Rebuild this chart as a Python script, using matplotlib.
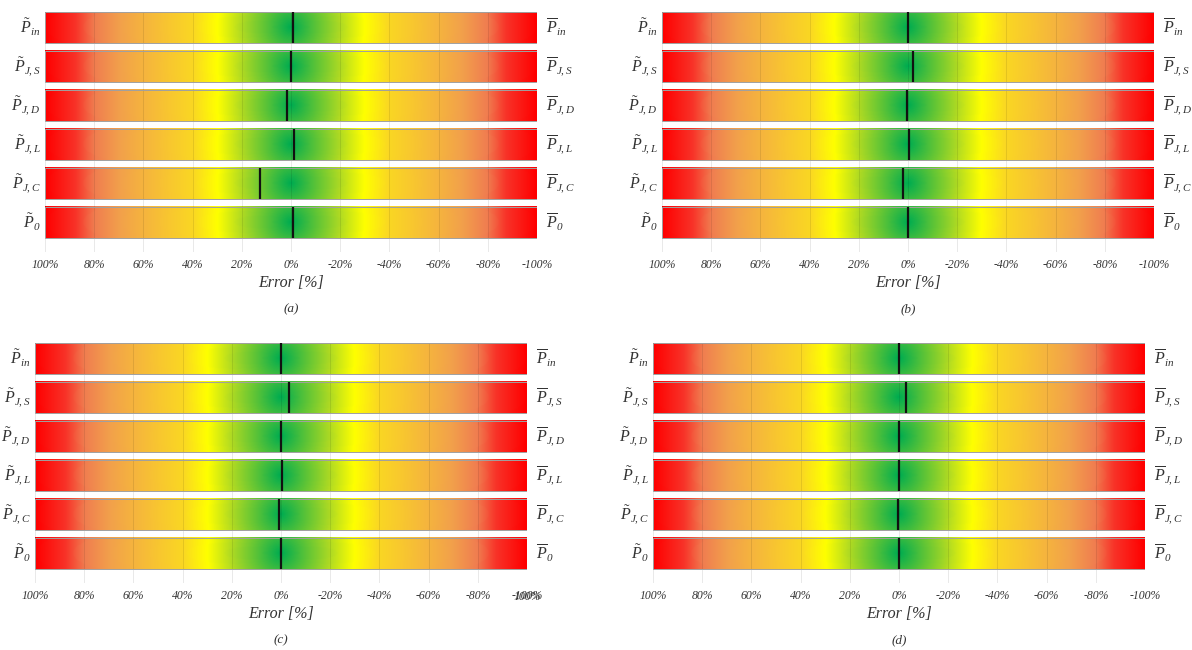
import numpy as np
import matplotlib
matplotlib.use("Agg")
import matplotlib.pyplot as plt
from matplotlib.colors import LinearSegmentedColormap

plt.rcParams['font.family'] = 'Liberation Serif'
plt.rcParams['mathtext.fontset'] = 'custom'
plt.rcParams['mathtext.rm'] = 'Liberation Serif'
plt.rcParams['mathtext.it'] = 'Liberation Serif:italic'
plt.rcParams['mathtext.bf'] = 'Liberation Serif:bold'
plt.rcParams['mathtext.cal'] = 'Liberation Serif:italic'  # used for italic digit subscripts

# data
left_labels = [r'$\tilde{P}_{in}$', r'$\tilde{P}_{J,S}$', r'$\tilde{P}_{J,D}$',
               r'$\tilde{P}_{J,L}$', r'$\tilde{P}_{J,C}$', r'$\tilde{P}_{\mathcal{0}}$']
right_labels = [r'$\overline{P}_{in}$', r'$\overline{P}_{J,S}$', r'$\overline{P}_{J,D}$',
                r'$\overline{P}_{J,L}$', r'$\overline{P}_{J,C}$', r'$\overline{P}_{\mathcal{0}}$']
errors_a = [-0.8, 0.0, 1.6, -1.1, 12.8, -0.7]
errors_b = [0.0, -2.0, 0.6, -0.3, 2.2, 0.0]
errors_c = [0.0, -3.3, 0.0, -0.3, 1.0, 0.0]
errors_d = [0.0, -3.0, 0.0, 0.0, 0.6, 0.0]
tick_vals = [100, 80, 60, 40, 20, 0, -20, -40, -60, -80, -100]
tick_labels = [f"{v}%" for v in tick_vals]

# colour scale by |error| (0 .. 100 %)
stops = [(0.00, (0, 172, 80)), (0.10, (90, 195, 55)), (0.20, (175, 218, 35)),
         (0.30, (255, 255, 0)), (0.40, (250, 215, 35)), (0.50, (248, 198, 48)),
         (0.60, (245, 180, 62)), (0.70, (242, 160, 75)), (0.80, (240, 125, 80)),
         (0.88, (248, 50, 40)), (1.00, (255, 0, 0))]
cmap = LinearSegmentedColormap.from_list(
    'err', [(p, tuple(c / 255 for c in rgb)) for p, rgb in stops])

bar_h = 0.795


def bar_image():
    xs = np.linspace(100, -100, 500)
    ys = np.linspace(-6.25, 6.25, 40)
    X, Y = np.meshgrid(xs, ys)
    d = np.clip(np.sqrt(X ** 2 + Y ** 2) / 100, 0, 1)
    return cmap(d)


def panel(rect, errors, tag, overlap=False):
    ax = fig.add_axes(rect)
    img = bar_image()
    for i, e in enumerate(errors):
        ax.imshow(img, extent=[100, -100, i + bar_h / 2, i - bar_h / 2],
                  aspect='auto', interpolation='bilinear', zorder=2)
        ax.barh(i, -200, left=100, height=bar_h, facecolor='none',
                edgecolor='#a0a0a0', lw=0.7, zorder=3)
        ax.vlines(e, i - bar_h / 2, i + bar_h / 2, color='#111111', lw=1.6, zorder=4)
        ax.text(-0.009, i, left_labels[i], transform=ax.get_yaxis_transform(),
                ha='right', va='center', fontsize=11.5, color='#333333')
        ax.text(1.018, i, right_labels[i], transform=ax.get_yaxis_transform(),
                ha='left', va='center', fontsize=11.5, color='#333333')
    ax.set_xlim(100, -100)
    ax.set_ylim(5.756, -0.3975)
    ax.set_xticks(tick_vals, tick_labels, fontsize=8.5, style='italic', color='#333333')
    ax.set_yticks([])
    ax.tick_params(axis='x', length=0, pad=5)
    ax.set_axisbelow(False)
    ax.grid(axis='x', color='black', alpha=0.09, lw=0.7)
    for s in ax.spines.values():
        s.set_visible(False)
    if overlap:
        ax.text(-100, -0.032, "100%", transform=ax.get_xaxis_transform(),
                ha='center', va='top', fontsize=8.5, style='italic', color='#333333')
    ax.text(0.5, -0.128, "Error [%]", transform=ax.transAxes, ha='center', va='center',
            fontsize=11.5, style='italic', color='#333333')
    ax.text(0.5, -0.24, tag, transform=ax.transAxes, ha='center', va='center',
            fontsize=9.5, style='italic', color='#333333')
    return ax


W, H = 1192, 650
fig = plt.figure(figsize=(W / 100, H / 100), dpi=100)


def rect(x0, x1, top, bottom):
    return [x0 / W, 1 - bottom / H, (x1 - x0) / W, (bottom - top) / H]


panel(rect(45, 537, 12, 252), errors_a, "(a)")
panel(rect(662, 1154, 12, 252), errors_b, "(b)")
panel(rect(35, 527, 343, 583), errors_c, "(c)", overlap=True)
panel(rect(653, 1145, 343, 583), errors_d, "(d)")

fig.savefig("out.png", dpi=100)
